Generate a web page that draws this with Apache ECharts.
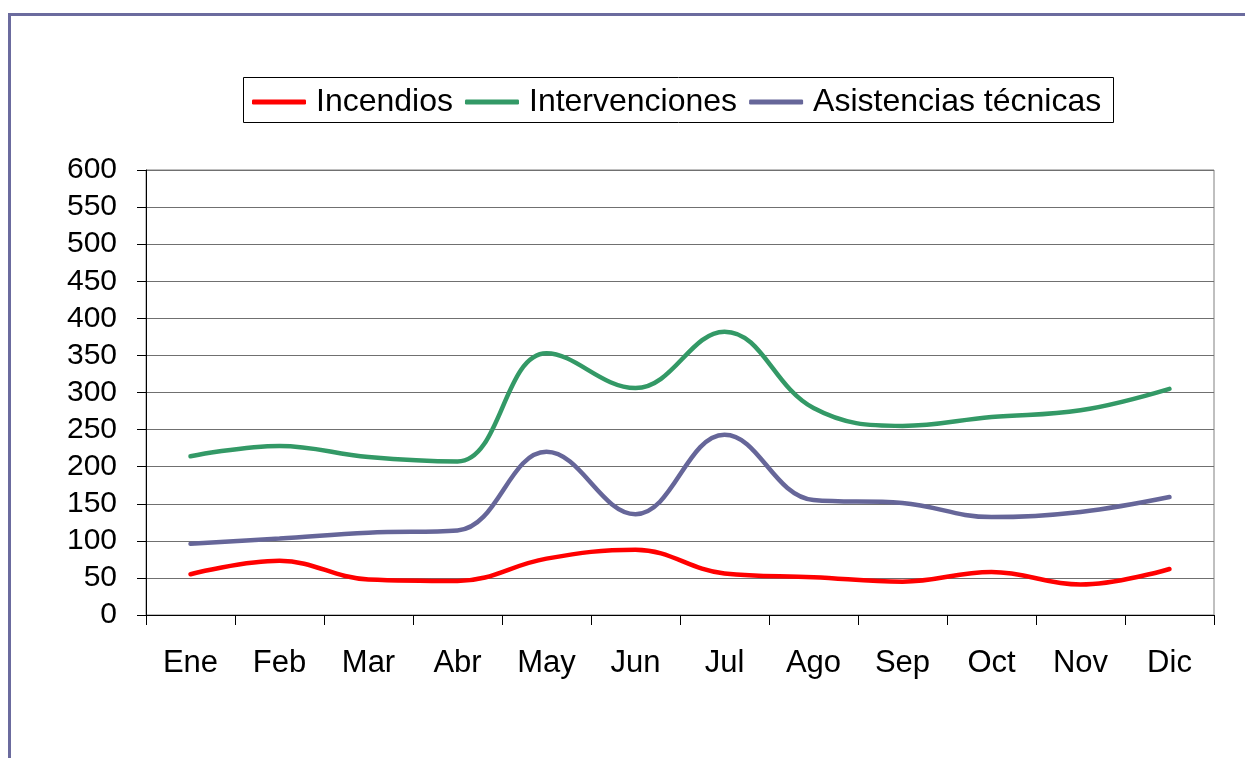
<!DOCTYPE html>
<html><head><meta charset="utf-8">
<script src="https://cdn.jsdelivr.net/npm/echarts@6/dist/echarts.min.js"></script>
<style>html,body{margin:0;padding:0;background:#fff}#c{width:1245px;height:758px}</style>
</head><body><div id="c"></div>
<script>
const categories = ['Ene','Feb','Mar','Abr','May','Jun','Jul','Ago','Sep','Oct','Nov','Dic'];
const incendios = [55, 73, 48, 46, 76, 88, 56, 51, 45, 58, 41, 62];
const intervenciones = [214, 228, 213, 207, 353, 306, 382, 279, 255, 267, 276, 305];
const asistencias = [96, 103, 111, 114, 220, 136, 243, 155, 151, 132, 139, 159];
const yTicks = {min: 0, max: 600, interval: 50};

const chart = echarts.init(document.getElementById('c'));
const font = 'Liberation Sans, Arial, sans-serif';
function line(name, data, color) {
  return {name, type: 'line', data, smooth: 0.4, symbol: 'none',
    lineStyle: {color, width: 4.5, cap: 'round'}, itemStyle: {color}};
}
chart.setOption({
  animation: false,
  graphic: [
    {type: 'line', shape: {x1: 8, y1: 14.5, x2: 1245, y2: 14.5}, style: {stroke: '#6b6b9e', lineWidth: 3}},
    {type: 'line', shape: {x1: 9.5, y1: 13, x2: 9.5, y2: 758}, style: {stroke: '#6b6b9e', lineWidth: 3}},
    {type: 'rect', shape: {x: 243.5, y: 77.5, width: 870, height: 45}, style: {fill: 'none', stroke: '#000', lineWidth: 1}}
  ],
  legend: {
    top: 86, left: 252, padding: 0, itemGap: 12, itemWidth: 54, itemHeight: 5,
    icon: 'roundRect',
    textStyle: {fontFamily: font, fontSize: 32, color: '#000', padding: [0,0,0,5]},
    data: ['Incendios','Intervenciones','Asistencias técnicas']
  },
  grid: {left: 146, right: 31, top: 170, bottom: 143, show: true, borderColor: '#808080', borderWidth: 1},
  xAxis: {
    type: 'category', data: categories, boundaryGap: true,
    axisLine: {lineStyle: {color: '#000', width: 1}},
    axisTick: {show: true, interval: 0, length: 10, lineStyle: {color: '#000'}},
    axisLabel: {interval: 0, margin: 33, fontFamily: font, fontSize: 31, color: '#000'}
  },
  yAxis: {
    type: 'value', min: yTicks.min, max: yTicks.max, interval: yTicks.interval,
    axisLine: {show: true, lineStyle: {color: '#000', width: 1}},
    axisTick: {show: true, length: 9, lineStyle: {color: '#000'}},
    axisLabel: {margin: 29, fontFamily: font, fontSize: 30, color: '#000'},
    splitLine: {lineStyle: {color: '#707070', width: 1}}
  },
  series: [
    line('Incendios', incendios, '#ff0000'),
    line('Intervenciones', intervenciones, '#339966'),
    line('Asistencias técnicas', asistencias, '#666699')
  ]
});
</script></body></html>
